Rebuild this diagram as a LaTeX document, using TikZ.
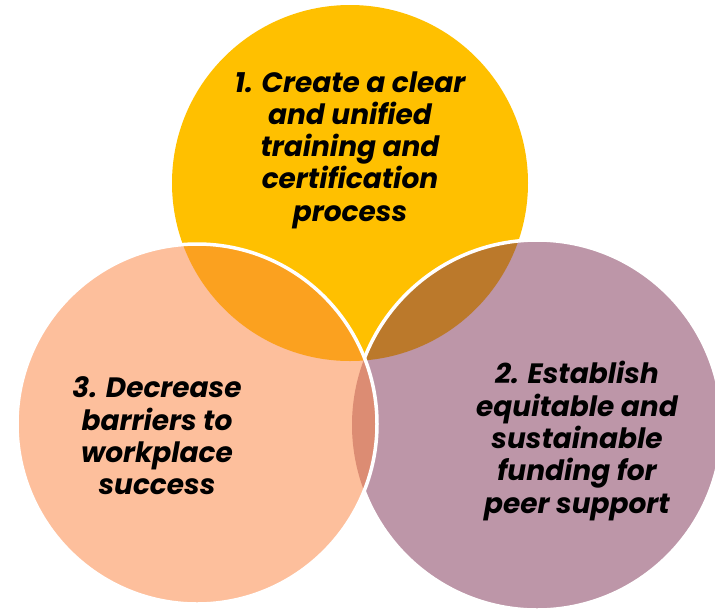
\documentclass[tikz,border=0pt]{standalone}
\usepackage{fontspec}
\setmainfont{Poppins}
\usetikzlibrary{positioning}
\definecolor{gold}{HTML}{FFC000}
\definecolor{mauve}{HTML}{BD96A8}
\definecolor{peach}{HTML}{FDBF9C}
\definecolor{rust}{HTML}{BB792B}
\definecolor{amber}{HTML}{FBA11F}
\definecolor{salmon}{HTML}{DC8C73}
\begin{document}
\begin{tikzpicture}[x=1pt,y=-1pt,
                    every node/.style={align=center,font=\fontsize{28}{32.3}\selectfont\bfseries\itshape},
                    rim/.style={draw=white,line width=3.5pt}]

\useasboundingbox (0,0) rectangle (715,614);
\coordinate (ct) at (350,183);
\coordinate (cr) at (537,425);
\coordinate (cl) at (197,424);

\fill[gold] (ct) circle[radius=178pt];
\fill[mauve] (cr) circle[radius=185pt];
\begin{scope}
  \clip (ct) circle[radius=178pt];
  \fill[rust] (cr) circle[radius=185pt];
\end{scope}
\draw[rim] (cr) circle[radius=185pt];
\fill[peach] (cl) circle[radius=180pt];
\begin{scope}
  \clip (ct) circle[radius=178pt];
  \fill[amber] (cl) circle[radius=180pt];
\end{scope}
\begin{scope}
  \clip (cr) circle[radius=185pt];
  \fill[salmon] (cl) circle[radius=180pt];
\end{scope}
\draw[rim] (cl) circle[radius=180pt];

\node (create) at (350,150) {1. Create a clear\\and unified\\training and\\certification\\process};
\node (fund) at (577,441) {2. Establish\\equitable and\\sustainable\\funding for\\peer support};
\node (barrier) at (157,436) {3. Decrease\\barriers to\\workplace\\success};

\end{tikzpicture}
\end{document}
